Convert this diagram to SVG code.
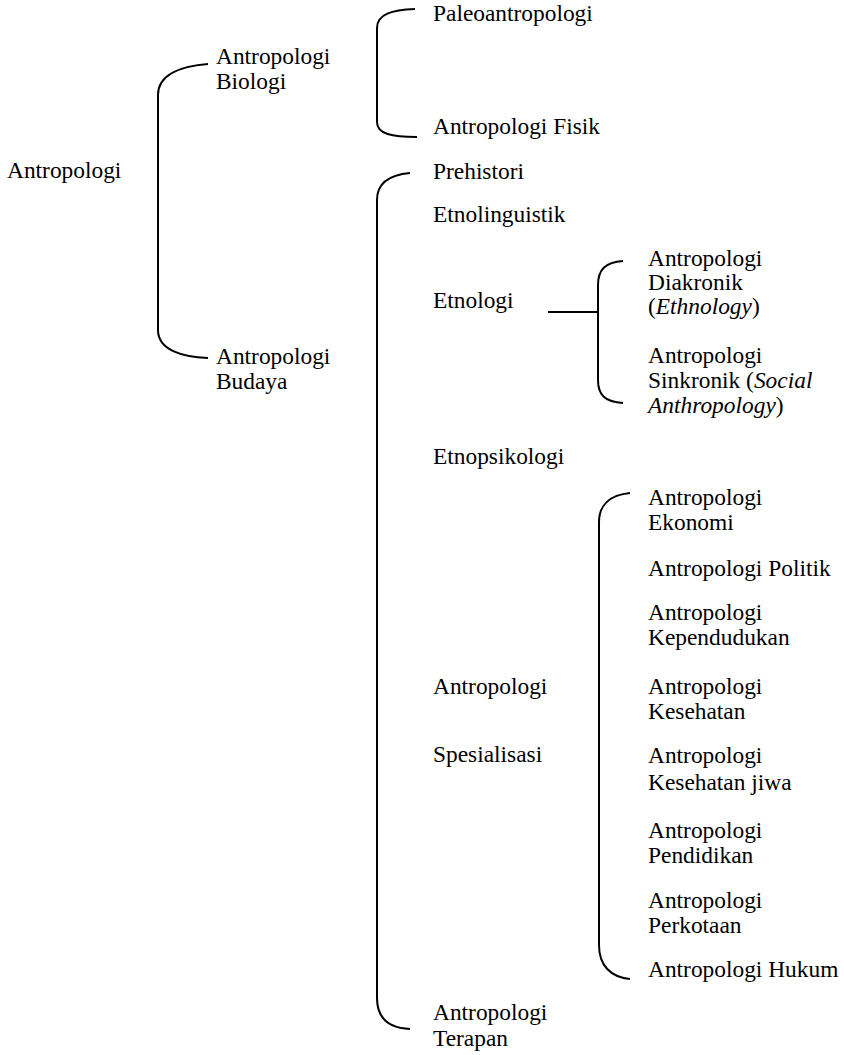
<svg xmlns="http://www.w3.org/2000/svg" width="844" height="1055" viewBox="0 0 844 1055">
<style>
text{font-family:'Liberation Serif','Times New Roman','DejaVu Serif',serif;font-size:23.4px;fill:#000}
.c{fill:none;stroke:#000;stroke-width:2}
.i{font-style:italic}
</style>
<rect width="844" height="1055" fill="#fff"/>
<g id="connectors">
<path class="c" d="M208,64 C182,66 158,74 158,95 L158,330 C158,350 182,357 208,358"/>
<path class="c" d="M415,9 C392,10 377,14 377,28 L377,122 C377,134 392,137 417,137"/>
<path class="c" d="M410,173 C388,175 377,184 377,200 L377,998 C377,1018 388,1028 410,1029"/>
<path class="c" d="M548,312 L598,312"/>
<path class="c" d="M623,261 C605,262 598,270 598,285 L598,380 C598,395 605,402 623,403"/>
<path class="c" d="M630,493 C610,495 599,505 599,522 L599,945 C599,965 610,977 630,979"/>
</g>
<g id="n-antropologi"><text x="7" y="178">Antropologi</text></g>
<g id="n-biologi"><text x="216" y="64">Antropologi</text><text x="216" y="89">Biologi</text></g>
<g id="n-budaya"><text x="216" y="364">Antropologi</text><text x="216" y="389">Budaya</text></g>
<g id="n-paleo"><text x="433" y="21">Paleoantropologi</text></g>
<g id="n-fisik"><text x="433" y="134">Antropologi Fisik</text></g>
<g id="n-prehistori"><text x="433" y="179">Prehistori</text></g>
<g id="n-etnolinguistik"><text x="433" y="222">Etnolinguistik</text></g>
<g id="n-etnologi"><text x="433" y="308">Etnologi</text></g>
<g id="n-diakronik"><text x="648" y="266">Antropologi</text><text x="648" y="290">Diakronik</text><text x="648" y="314">(<tspan class="i">Ethnology</tspan>)</text></g>
<g id="n-sinkronik"><text x="648" y="363">Antropologi</text><text x="648" y="388">Sinkronik (<tspan class="i">Social</tspan></text><text x="648" y="413"><tspan class="i">Anthropology</tspan>)</text></g>
<g id="n-etnopsikologi"><text x="433" y="464">Etnopsikologi</text></g>
<g id="n-spesialisasi"><text x="433" y="694">Antropologi</text><text x="433" y="762">Spesialisasi</text></g>
<g id="n-ekonomi"><text x="648" y="505">Antropologi</text><text x="648" y="530">Ekonomi</text></g>
<g id="n-politik"><text x="648" y="576">Antropologi Politik</text></g>
<g id="n-kependudukan"><text x="648" y="620">Antropologi</text><text x="648" y="645">Kependudukan</text></g>
<g id="n-kesehatan"><text x="648" y="694">Antropologi</text><text x="648" y="719">Kesehatan</text></g>
<g id="n-jiwa"><text x="648" y="763">Antropologi</text><text x="648" y="790">Kesehatan jiwa</text></g>
<g id="n-pendidikan"><text x="648" y="838">Antropologi</text><text x="648" y="863">Pendidikan</text></g>
<g id="n-perkotaan"><text x="648" y="908">Antropologi</text><text x="648" y="933">Perkotaan</text></g>
<g id="n-hukum"><text x="648" y="977">Antropologi Hukum</text></g>
<g id="n-terapan"><text x="433" y="1020">Antropologi</text><text x="433" y="1046">Terapan</text></g>
</svg>
